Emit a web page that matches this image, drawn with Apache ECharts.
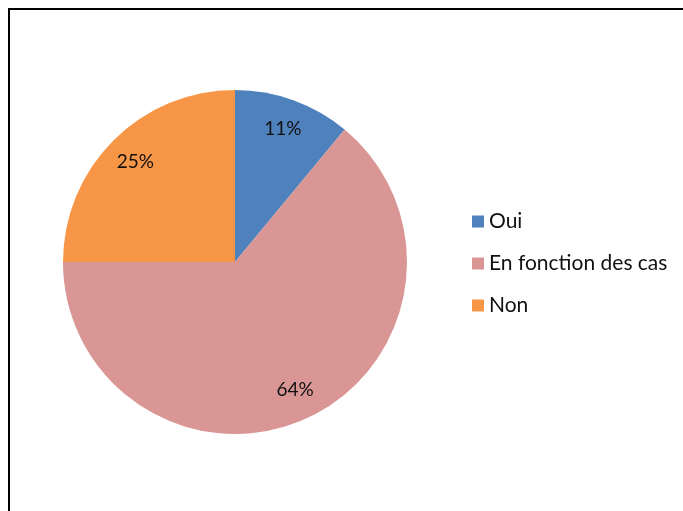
<!DOCTYPE html>
<html>
<head>
<meta charset="utf-8">
<script src="https://cdn.jsdelivr.net/npm/echarts@6/dist/echarts.min.js"></script>
<style>
  html, body { margin: 0; padding: 0; background: #fff; }
  #chart { width: 683px; height: 511px; position: relative; }
  #frame { position: absolute; left: 8px; top: 8px; right: -4px; bottom: -4px;
           border-left: 2px solid #000; border-top: 2px solid #000; pointer-events: none; }
</style>
</head>
<body>
<div id="chart"></div>
<div id="frame"></div>
<script>
  // categories / values
  var categories = ['Oui', 'En fonction des cas', 'Non']
  var values = [11, 64, 25]
  var colors = ['#4F81BD', '#D99694', '#F79646']

  var pieData = categories.map(function (c, i) {
    return { name: c, value: values[i], itemStyle: { color: colors[i] } }
  })

  var chart = echarts.init(document.getElementById('chart'))
  var option = {
    animation: false,
    legend: {
      orient: 'vertical',
      left: 467,
      top: 206,
      itemWidth: 12,
      itemHeight: 12,
      itemGap: 21,
      icon: 'rect',
      data: categories,
      textStyle: { fontFamily: 'Lato', fontSize: 21, lineHeight: 21, color: '#111' }
    },
    series: [{
      type: 'pie',
      center: [235, 262],
      radius: 172,
      startAngle: 90,
      clockwise: true,
      silent: true,
      label: { show: false },
      labelLine: { show: false },
      data: pieData
    }, {
      // transparent ring, only carries the percentage labels
      type: 'pie',
      center: [235, 262],
      radius: [104, 172],
      startAngle: 90,
      clockwise: true,
      silent: true,
      itemStyle: { color: 'rgba(0,0,0,0)' },
      label: {
        show: true,
        position: 'inside',
        formatter: '{c}%',
        fontFamily: 'Lato',
        fontSize: 19,
        color: '#111'
      },
      labelLine: { show: false },
      data: categories.map(function (c, i) {
        return { name: c, value: values[i], itemStyle: { color: 'rgba(0,0,0,0)' } }
      })
    }]
  }
  chart.setOption(option)
</script>
</body>
</html>
